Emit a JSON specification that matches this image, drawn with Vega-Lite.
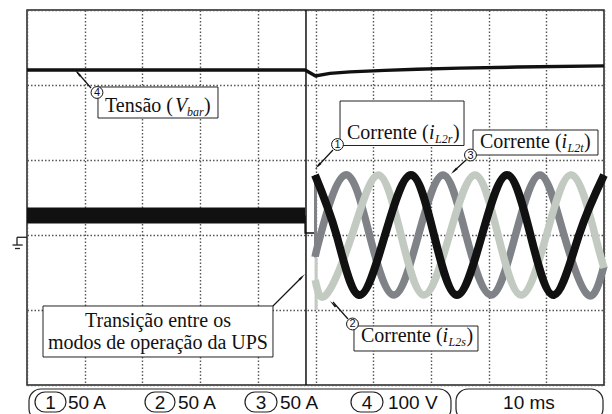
{
  "$schema": "https://vega.github.io/schema/vega-lite/v6.json",
  "width": 577,
  "height": 375,
  "padding": {"left": 27, "top": 10, "right": 8, "bottom": 29},
  "autosize": {"type": "none"},
  "background": "white",
  "config": {
    "view": {"stroke": "#222", "strokeWidth": 1.5},
    "axis": {"grid": true, "labels": false, "ticks": false, "domain": false, "title": null, "gridDash": [1.5, 2], "gridColor": "#555", "gridWidth": 1.4, "gridOpacity": 1}
  },
  "datasets": {
    "volt": [
      {"t": 0, "v": 3.4}, {"t": 48.2, "v": 3.4}, {"t": 50.0, "v": 3.24}, {"t": 52.5, "v": 3.31},
      {"t": 56.0, "v": 3.35}, {"t": 62.0, "v": 3.39}, {"t": 67.6, "v": 3.42}, {"t": 75.0, "v": 3.45},
      {"t": 85.0, "v": 3.48}, {"t": 100, "v": 3.51}
    ],
    "band": [{"t": 0, "v": -0.48}, {"t": 48.2, "v": -0.48}],
    "conn": [
      {"i": 1, "t": 48.2, "v": -0.48}, {"i": 2, "t": 48.2, "v": -0.947},
      {"i": 3, "t": 49.91, "v": -0.947}, {"i": 4, "t": 49.91, "v": 0.6}
    ],
    "waves": [
      {"ch": 1, "t": 49.91, "v": 0.6}, {"ch": 1, "t": 53.64, "v": -1.0}, {"ch": 1, "t": 57.54, "v": -2.6},
      {"ch": 1, "t": 62.05, "v": -1.0}, {"ch": 1, "t": 66.55, "v": 0.6}, {"ch": 1, "t": 70.54, "v": -1.0},
      {"ch": 1, "t": 74.52, "v": -2.6}, {"ch": 1, "t": 78.86, "v": -1.0}, {"ch": 1, "t": 83.19, "v": 0.6},
      {"ch": 1, "t": 87.26, "v": -1.0}, {"ch": 1, "t": 91.33, "v": -2.6}, {"ch": 1, "t": 95.67, "v": -1.0},
      {"ch": 1, "t": 100, "v": 0.6},
      {"ch": 2, "t": 49.95, "v": -2.2}, {"ch": 2, "t": 51.82, "v": -2.6},
      {"ch": 2, "t": 56.33, "v": -1.0}, {"ch": 2, "t": 60.83, "v": 0.6}, {"ch": 2, "t": 64.82, "v": -1.0},
      {"ch": 2, "t": 68.8, "v": -2.6}, {"ch": 2, "t": 73.22, "v": -1.0}, {"ch": 2, "t": 77.64, "v": 0.6},
      {"ch": 2, "t": 81.63, "v": -1.0}, {"ch": 2, "t": 85.62, "v": -2.6}, {"ch": 2, "t": 90.03, "v": -1.0},
      {"ch": 2, "t": 94.45, "v": 0.6}, {"ch": 2, "t": 98.44, "v": -1.0}, {"ch": 2, "t": 100, "v": -1.88},
      {"ch": 3, "t": 49.95, "v": -1.58}, {"ch": 3, "t": 50.87, "v": -1.0},
      {"ch": 3, "t": 55.11, "v": 0.6}, {"ch": 3, "t": 59.36, "v": -1.0}, {"ch": 3, "t": 63.6, "v": -2.6},
      {"ch": 3, "t": 67.85, "v": -1.0}, {"ch": 3, "t": 72.1, "v": 0.6}, {"ch": 3, "t": 76.08, "v": -1.0},
      {"ch": 3, "t": 80.42, "v": -2.6}, {"ch": 3, "t": 84.66, "v": -1.0}, {"ch": 3, "t": 88.91, "v": 0.6},
      {"ch": 3, "t": 93.07, "v": -1.0}, {"ch": 3, "t": 97.23, "v": -2.6}, {"ch": 3, "t": 100, "v": -1.82}
    ],
    "spikes": [
      {"ch": 3, "t": 50.0, "v": 0.45, "v2": -1.6},
      {"ch": 2, "t": 50.1, "v": -1.6, "v2": -3.0}
    ],
    "ground": [
      {"t": -1.733, "v": -1.061, "t2": 0, "v2": -1.061},
      {"t": -1.733, "v": -1.061, "t2": -1.733, "v2": -1.267},
      {"t": -2.513, "v": -1.267, "t2": -0.745, "v2": -1.267},
      {"t": -2.08, "v": -1.36, "t2": -1.213, "v2": -1.36}
    ],
    "boxes": [
      {"t": 12.305, "t2": 33.1, "v": 2.947, "v2": 2.12},
      {"t": 54.25, "t2": 75.74, "v": 2.573, "v2": 1.387},
      {"t": 77.3, "t2": 98.96, "v": 1.8, "v2": 1.133},
      {"t": 56.67, "t2": 78.16, "v": -3.427, "v2": -4.093},
      {"t": 2.773, "t2": 42.63, "v": -2.893, "v2": -4.253}
    ],
    "labels": [
      {"k": "n", "t": 13.52, "v": 2.28, "txt": "Tensão ("},
      {"k": "i", "t": 25.65, "v": 2.28, "txt": "V"},
      {"k": "s", "t": 27.73, "v": 2.173, "txt": "bar"},
      {"k": "n", "t": 30.68, "v": 2.28, "txt": ")"},
      {"k": "n", "t": 55.46, "v": 1.56, "txt": "Corrente ("},
      {"k": "i", "t": 69.67, "v": 1.56, "txt": "i"},
      {"k": "s", "t": 70.71, "v": 1.453, "txt": "L2r"},
      {"k": "n", "t": 73.83, "v": 1.56, "txt": ")"},
      {"k": "n", "t": 78.51, "v": 1.32, "txt": "Corrente ("},
      {"k": "i", "t": 92.65, "v": 1.32, "txt": "i"},
      {"k": "s", "t": 93.67, "v": 1.213, "txt": "L2t"},
      {"k": "n", "t": 96.53, "v": 1.32, "txt": ")"},
      {"k": "n", "t": 57.89, "v": -3.853, "txt": "Corrente ("},
      {"k": "i", "t": 72.03, "v": -3.853, "txt": "i"},
      {"k": "s", "t": 73.05, "v": -3.96, "txt": "L2s"},
      {"k": "n", "t": 76.17, "v": -3.853, "txt": ")"},
      {"k": "c", "t": 22.7, "v": -3.453, "txt": "Transição entre os"},
      {"k": "c", "t": 22.7, "v": -4.04, "txt": "modos de operação da UPS"}
    ],
    "arrows": [
      {"t": 11.09, "v": 2.92, "t2": 8.67, "v2": 3.347, "ht": 8.94, "hv": 3.293, "dir": 318.7},
      {"t": 53.03, "v": 1.267, "t2": 50.43, "v2": 0.84, "ht": 50.55, "hv": 0.864, "dir": 223.4},
      {"t": 76.08, "v": 1.0, "t2": 73.83, "v2": 0.68, "ht": 74.16, "hv": 0.725, "dir": 227.1},
      {"t": 55.63, "v": -3.24, "t2": 53.03, "v2": -2.787, "ht": 53.17, "hv": -2.861, "dir": 315},
      {"t": 42.63, "v": -2.893, "t2": 47.66, "v2": -2.12, "ht": 47.52, "hv": -2.141, "dir": 45}
    ],
    "tags": [
      {"t": 12.13, "v": 2.8, "n": "4"},
      {"t": 53.81, "v": 1.413, "n": "1"},
      {"t": 76.86, "v": 1.133, "n": "3"},
      {"t": 56.41, "v": -3.373, "n": "2"}
    ],
    "bars": [
      {"t": 0.347, "t2": 73.48, "v": -5.107, "v2": -5.95},
      {"t": 74.35, "t2": 99.83, "v": -5.107, "v2": -5.95}
    ],
    "chips": [
      {"t": 1.386, "t2": 6.759, "c": 4.07, "n": "1"},
      {"t": 20.45, "t2": 25.65, "c": 23.05, "n": "2"},
      {"t": 37.78, "t2": 43.33, "c": 40.55, "n": "3"},
      {"t": 56.15, "t2": 61.7, "c": 58.93, "n": "4"}
    ],
    "status": [
      {"t": 7.106, "txt": "50 A"},
      {"t": 26.17, "txt": "50 A"},
      {"t": 43.85, "txt": "50 A"},
      {"t": 62.56, "txt": "100 V"}
    ],
    "base": [{"t": 87.0, "txt": "10 ms"}],
    "marker": [{"t": 48.35}]
  },
  "layer": [
    {
      "data": {"name": "volt"},
      "mark": {"type": "line", "color": "#111", "strokeWidth": 3.5},
      "encoding": {
        "x": {"field": "t", "type": "quantitative", "scale": {"domain": [0, 100], "nice": false, "zero": false}, "axis": {"values": [0, 10, 20, 30, 40, 50, 60, 70, 80, 90, 100]}},
        "y": {"field": "v", "type": "quantitative", "scale": {"domain": [-5, 5], "nice": false, "zero": false}, "axis": {"values": [-5, -4, -3, -2, -1, 0, 1, 2, 3, 4, 5]}}
      }
    },
    {
      "data": {"name": "band"},
      "mark": {"type": "line", "color": "#111", "strokeWidth": 16, "strokeCap": "butt"},
      "encoding": {"x": {"field": "t", "type": "quantitative"}, "y": {"field": "v", "type": "quantitative"}}
    },
    {
      "data": {"name": "conn"},
      "mark": {"type": "line", "color": "#111", "strokeWidth": 1.5},
      "encoding": {"x": {"field": "t", "type": "quantitative"}, "y": {"field": "v", "type": "quantitative"}, "order": {"field": "i"}}
    },
    {
      "data": {"name": "marker"},
      "mark": {"type": "rule", "color": "#111", "strokeWidth": 1.5},
      "encoding": {"x": {"field": "t", "type": "quantitative"}}
    },
    {
      "data": {"name": "spikes"},
      "transform": [{"filter": "datum.ch == 3"}],
      "mark": {"type": "rule", "color": "#7f8287", "strokeWidth": 3},
      "encoding": {"x": {"field": "t", "type": "quantitative"}, "y": {"field": "v", "type": "quantitative"}, "y2": {"field": "v2"}}
    },
    {
      "data": {"name": "waves"},
      "transform": [{"filter": "datum.ch == 3"}],
      "mark": {"type": "line", "color": "#7f8287", "strokeWidth": 7.5, "interpolate": "natural"},
      "encoding": {"x": {"field": "t", "type": "quantitative"}, "y": {"field": "v", "type": "quantitative"}}
    },
    {
      "data": {"name": "spikes"},
      "transform": [{"filter": "datum.ch == 2"}],
      "mark": {"type": "rule", "color": "#c2cac2", "strokeWidth": 3},
      "encoding": {"x": {"field": "t", "type": "quantitative"}, "y": {"field": "v", "type": "quantitative"}, "y2": {"field": "v2"}}
    },
    {
      "data": {"name": "waves"},
      "transform": [{"filter": "datum.ch == 2"}],
      "mark": {"type": "line", "color": "#c2cac2", "strokeWidth": 7.5, "interpolate": "natural"},
      "encoding": {"x": {"field": "t", "type": "quantitative"}, "y": {"field": "v", "type": "quantitative"}}
    },
    {
      "data": {"name": "waves"},
      "transform": [{"filter": "datum.ch == 1"}],
      "mark": {"type": "line", "color": "#111", "strokeWidth": 8, "interpolate": "natural"},
      "encoding": {"x": {"field": "t", "type": "quantitative"}, "y": {"field": "v", "type": "quantitative"}}
    },
    {
      "data": {"name": "ground"},
      "mark": {"type": "rule", "color": "#222", "strokeWidth": 1.3, "clip": false},
      "encoding": {"x": {"field": "t", "type": "quantitative"}, "y": {"field": "v", "type": "quantitative"}, "x2": {"field": "t2"}, "y2": {"field": "v2"}}
    },
    {
      "data": {"name": "boxes"},
      "mark": {"type": "rect", "fill": "white", "stroke": "#222", "strokeWidth": 1},
      "encoding": {"x": {"field": "t", "type": "quantitative"}, "x2": {"field": "t2"}, "y": {"field": "v", "type": "quantitative"}, "y2": {"field": "v2"}}
    },
    {
      "data": {"name": "labels"},
      "transform": [{"filter": "datum.k == 'n'"}],
      "mark": {"type": "text", "font": "Liberation Serif", "fontSize": 20, "align": "left", "baseline": "alphabetic", "color": "#111"},
      "encoding": {"x": {"field": "t", "type": "quantitative"}, "y": {"field": "v", "type": "quantitative"}, "text": {"field": "txt"}}
    },
    {
      "data": {"name": "labels"},
      "transform": [{"filter": "datum.k == 'i'"}],
      "mark": {"type": "text", "font": "Liberation Serif", "fontSize": 20, "fontStyle": "italic", "align": "left", "baseline": "alphabetic", "color": "#111"},
      "encoding": {"x": {"field": "t", "type": "quantitative"}, "y": {"field": "v", "type": "quantitative"}, "text": {"field": "txt"}}
    },
    {
      "data": {"name": "labels"},
      "transform": [{"filter": "datum.k == 's'"}],
      "mark": {"type": "text", "font": "Liberation Serif", "fontSize": 12, "fontStyle": "italic", "align": "left", "baseline": "alphabetic", "color": "#111"},
      "encoding": {"x": {"field": "t", "type": "quantitative"}, "y": {"field": "v", "type": "quantitative"}, "text": {"field": "txt"}}
    },
    {
      "data": {"name": "labels"},
      "transform": [{"filter": "datum.k == 'c'"}],
      "mark": {"type": "text", "font": "Liberation Serif", "fontSize": 20, "align": "center", "baseline": "alphabetic", "color": "#111"},
      "encoding": {"x": {"field": "t", "type": "quantitative"}, "y": {"field": "v", "type": "quantitative"}, "text": {"field": "txt"}}
    },
    {
      "data": {"name": "arrows"},
      "mark": {"type": "rule", "color": "#111", "strokeWidth": 1.2},
      "encoding": {"x": {"field": "t", "type": "quantitative"}, "y": {"field": "v", "type": "quantitative"}, "x2": {"field": "t2"}, "y2": {"field": "v2"}}
    },
    {
      "data": {"name": "arrows"},
      "mark": {"type": "point", "shape": "wedge", "filled": true, "color": "#111", "size": 90, "opacity": 1},
      "encoding": {"x": {"field": "ht", "type": "quantitative"}, "y": {"field": "hv", "type": "quantitative"}, "angle": {"field": "dir", "type": "quantitative", "scale": null}}
    },
    {
      "data": {"name": "tags"},
      "mark": {"type": "point", "shape": "circle", "filled": true, "fill": "white", "stroke": "#111", "strokeWidth": 1, "size": 140, "opacity": 1},
      "encoding": {"x": {"field": "t", "type": "quantitative"}, "y": {"field": "v", "type": "quantitative"}}
    },
    {
      "data": {"name": "tags"},
      "mark": {"type": "text", "font": "Liberation Sans", "fontSize": 11, "align": "center", "baseline": "middle", "dy": 0.5, "color": "#111"},
      "encoding": {"x": {"field": "t", "type": "quantitative"}, "y": {"field": "v", "type": "quantitative"}, "text": {"field": "n"}}
    },
    {
      "data": {"name": "bars"},
      "mark": {"type": "rect", "fill": "white", "stroke": "#222", "strokeWidth": 1.2, "cornerRadius": 12, "clip": false},
      "encoding": {"x": {"field": "t", "type": "quantitative"}, "x2": {"field": "t2"}, "y": {"field": "v", "type": "quantitative"}, "y2": {"field": "v2"}}
    },
    {
      "data": {"name": "chips"},
      "mark": {"type": "rect", "fill": "white", "stroke": "#222", "strokeWidth": 1.2, "cornerRadius": 10, "clip": false},
      "encoding": {"x": {"field": "t", "type": "quantitative"}, "x2": {"field": "t2"}, "y": {"datum": -5.187, "type": "quantitative"}, "y2": {"datum": -5.72}}
    },
    {
      "data": {"name": "chips"},
      "mark": {"type": "text", "font": "Liberation Sans", "fontSize": 19, "align": "center", "baseline": "alphabetic", "color": "#111", "clip": false},
      "encoding": {"x": {"field": "c", "type": "quantitative"}, "y": {"datum": -5.64, "type": "quantitative"}, "text": {"field": "n"}}
    },
    {
      "data": {"name": "status"},
      "mark": {"type": "text", "font": "Liberation Sans", "fontSize": 19, "align": "left", "baseline": "alphabetic", "color": "#111", "clip": false},
      "encoding": {"x": {"field": "t", "type": "quantitative"}, "y": {"datum": -5.64, "type": "quantitative"}, "text": {"field": "txt"}}
    },
    {
      "data": {"name": "base"},
      "mark": {"type": "text", "font": "Liberation Sans", "fontSize": 19, "align": "center", "baseline": "alphabetic", "color": "#111", "clip": false},
      "encoding": {"x": {"field": "t", "type": "quantitative"}, "y": {"datum": -5.64, "type": "quantitative"}, "text": {"field": "txt"}}
    }
  ]
}
